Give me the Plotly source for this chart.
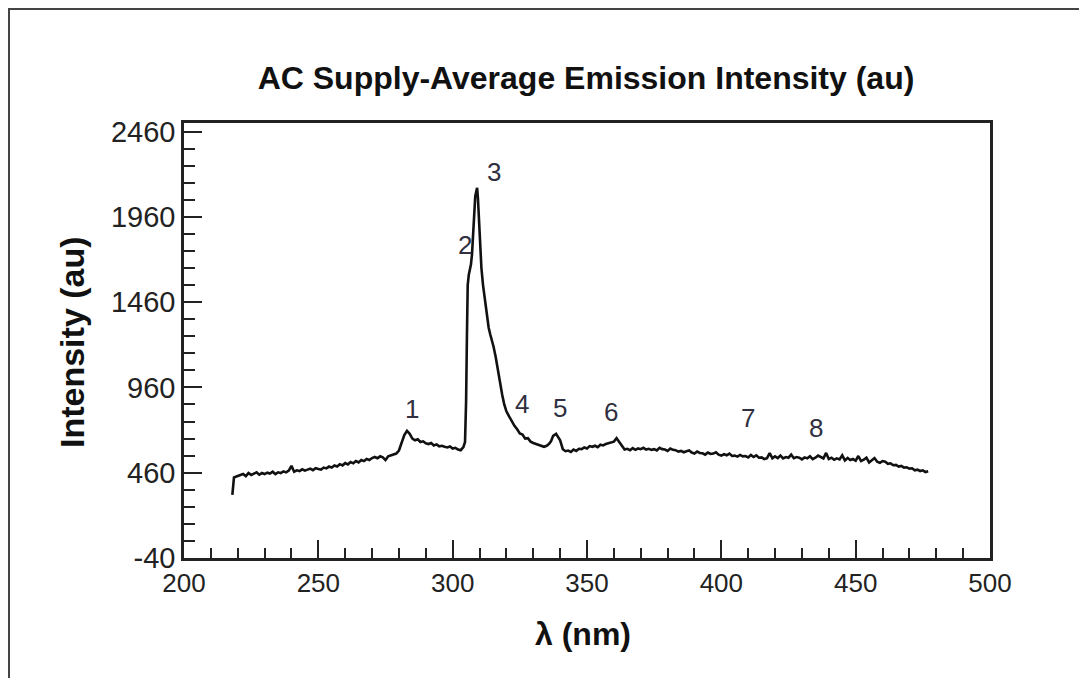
import plotly.graph_objects as go

# Spectrum (wavelength nm, intensity au)
wavelength = [218.0, 218.3, 218.6, 219.5, 221, 222, 223, 224, 225, 226, 227, 228, 229, 230,
              231, 232, 233, 234, 235, 236, 237, 238, 239, 240, 241, 242, 243, 244, 245, 246,
              247, 248, 249, 250, 251, 252, 253, 254, 255, 256, 257, 258, 259, 260, 261, 262,
              263, 264, 265, 266, 267, 268, 269, 270, 271, 272,
              273, 274, 275, 276, 277, 278, 279, 280, 281, 282, 283, 284, 285, 286, 287, 288,
              289, 290, 291, 292, 293, 294, 295, 296, 297, 298, 299, 300, 301, 302, 303, 304,
              304.6, 305.0, 305.3, 305.6, 306.0, 306.4, 306.8, 307.2, 307.6, 308.0, 308.4,
              308.8, 309.1, 309.4, 309.8, 310.2, 310.7, 311.3, 312.0, 312.7, 313.4, 314.0,
              314.6, 315.2, 316.0, 316.8, 317.6, 318.4, 319.2, 320, 321, 322, 323, 324, 325,
              326, 327, 328, 329, 330, 331, 332, 333, 334, 335, 335.8, 336.6, 337.4, 338.5,
              340, 341, 342, 343, 344, 345, 346, 347, 348, 349, 350, 351, 352, 353, 354, 355,
              356, 357, 358, 359, 360, 361, 362, 363, 364, 365, 366, 367, 368, 369, 370, 371,
              372, 373, 374, 375, 376, 377, 378, 379, 380, 381, 382, 383, 384, 385, 386, 387,
              388, 389, 390, 391, 392, 393, 394, 395, 396, 397, 398, 399, 400, 401, 402, 403,
              404, 405, 406, 407,
              408, 409, 410, 411, 412, 413, 414, 415, 416, 417, 418, 419, 420, 421, 422, 423,
              424, 425, 426, 427,
              428, 429, 430, 431, 432, 433, 434, 435, 436, 437, 438, 439, 440, 441, 442, 443,
              444, 445, 446, 447, 448, 449, 450, 451, 452, 453, 454, 455, 456, 457, 458, 459,
              460, 461, 462, 463, 464, 465, 466, 467, 468, 469, 470, 471,
              472, 473, 474, 475, 476, 477]
intensity = [330, 420, 432, 438, 446, 452, 440, 458, 447, 455, 462, 448, 458, 452,
             460, 455, 466, 452, 462, 458, 468, 462, 472, 500, 466, 474, 470, 480, 472, 478,
             484, 475, 486, 482, 478, 490, 485, 496, 490, 502, 496, 510, 503, 516, 508, 522,
             515, 528, 520, 534, 528, 540, 534, 546, 552, 545,
             556, 550, 534, 556, 560, 566, 572, 590, 630, 680, 705, 688, 660, 650, 656, 640,
             644, 632, 628, 634, 620, 626, 615, 618, 612, 608, 614, 602, 606, 596, 592, 610,
             640, 880, 1250, 1560, 1620, 1650, 1680, 1740, 1850, 1990, 2080, 2110, 2130,
             2070, 1930, 1780, 1660, 1560, 1470, 1390, 1310, 1270, 1240, 1200, 1140, 1060,
             990, 920, 860, 820, 790, 760, 735, 715, 690, 684, 660, 662, 642, 634, 628, 622,
             616, 612, 618, 628, 644, 676, 688, 650, 598, 586, 590, 582, 596, 588, 600, 598,
             608, 602, 616, 612, 618, 610, 624, 620, 628, 632, 636, 642, 662, 640, 612, 596,
             600, 592, 604, 594, 602, 598, 606, 596, 600, 594, 598, 590,
             606, 598, 596, 588, 602, 594, 592, 584, 588, 580, 586, 590, 578, 572, 584, 576,
             574, 566, 578, 570, 572, 580, 566, 560, 568, 562, 572, 558, 560, 554, 564, 556,
             558, 550, 564, 552, 562, 548, 550, 540,
             545, 575, 544, 556, 546, 560, 544, 552, 548, 566, 545, 552, 548, 538, 550, 544,
             556, 540, 548, 560,
             552, 544, 576, 540, 548, 536, 544, 538, 562, 532, 546, 534, 540, 530, 558, 528,
             536, 548, 520, 532, 546, 524, 518, 528, 524, 512, 515, 504, 506, 496, 500, 490,
             492, 484, 486, 474, 478, 470, 474, 464, 468, 458, 462, 450,
             458, 446, 452, 444, 460, 462]

# Peak labels
peak_labels = ["1", "2", "3", "4", "5", "6", "7", "8"]
peak_x = [284.9, 304.6, 315.4, 325.8, 339.9, 358.9, 409.9, 435.2]
peak_y = [836, 1795, 2221, 860, 842, 813, 778, 725]

x_ticks = [200, 250, 300, 350, 400, 450, 500]
y_ticks = [-40, 460, 960, 1460, 1960, 2460]
y_tick_text = ["-40", "460", "960", "1460", "1960", "2460"]

FONT = "Liberation Sans, Arial, sans-serif"

# page body has an 8px margin: figure spans page x 8..1087, y 8..678
W, H = 1079, 670
L, R, T, B = 176, 97, 115, 120
PW, PH = W - L - R, H - T - B


def px(xpage):
    return (xpage - 8 - L) / PW


def py(ypage):
    return (H - B - (ypage - 8)) / PH


fig = go.Figure()
fig.add_trace(go.Scatter(x=wavelength, y=intensity, mode="lines",
                         line=dict(color="#111111", width=2.6), showlegend=False))

for t, xv, yv in zip(peak_labels, peak_x, peak_y):
    fig.add_annotation(x=xv, y=yv, text=t, showarrow=False,
                       font=dict(family=FONT, size=26, color="#303040"))

fig.update_layout(
    width=W, height=H,
    margin=dict(l=L, r=R, t=T, b=B),
    paper_bgcolor="white", plot_bgcolor="white",
    title=dict(text="<b>AC Supply-Average Emission Intensity (au)</b>",
               x=(586 - 8) / W, xanchor="center", y=1 - (78 - 8) / H, yanchor="middle",
               font=dict(family=FONT, size=32, color="#111111")),
)
fig.update_xaxes(range=[200, 500], tickvals=x_ticks, ticks="inside", ticklen=18,
                 tickwidth=2, tickcolor="#222", showline=True, linewidth=2.5,
                 linecolor="#222", mirror=True, showgrid=False, zeroline=False,
                 tickfont=dict(family=FONT, size=26, color="#222"),
                 minor=dict(dtick=10, ticks="inside", ticklen=10, tickwidth=2,
                            tickcolor="#222", showgrid=False))
fig.update_yaxes(range=[-40, 2510], tickvals=y_ticks, ticktext=y_tick_text,
                 ticks="inside", ticklen=18,
                 tickwidth=2, tickcolor="#222", showline=True, linewidth=2.5,
                 linecolor="#222", mirror=True, showgrid=False, zeroline=False,
                 tickfont=dict(family=FONT, size=29, color="#222"),
                 minor=dict(tick0=-40, dtick=100, ticks="inside", ticklen=11, tickwidth=2,
                            tickcolor="#222", showgrid=False))

fig.add_annotation(xref="paper", yref="paper", x=px(583), y=py(634),
                   xanchor="center", yanchor="middle",
                   text="<b>λ (nm)</b>", showarrow=False,
                   font=dict(family=FONT, size=32, color="#111111"))
fig.add_annotation(xref="paper", yref="paper", x=px(72), y=py(342),
                   xanchor="center", yanchor="middle",
                   text="<b>Intensity (au)</b>", showarrow=False, textangle=-90,
                   font=dict(family=FONT, size=34, color="#111111"))

# outer frame around the figure
fig.add_shape(type="rect", xref="paper", yref="paper",
              x0=px(9), x1=px(1085), y0=py(720), y1=py(9),
              line=dict(color="#444", width=2))

fig.write_html("out.html")
